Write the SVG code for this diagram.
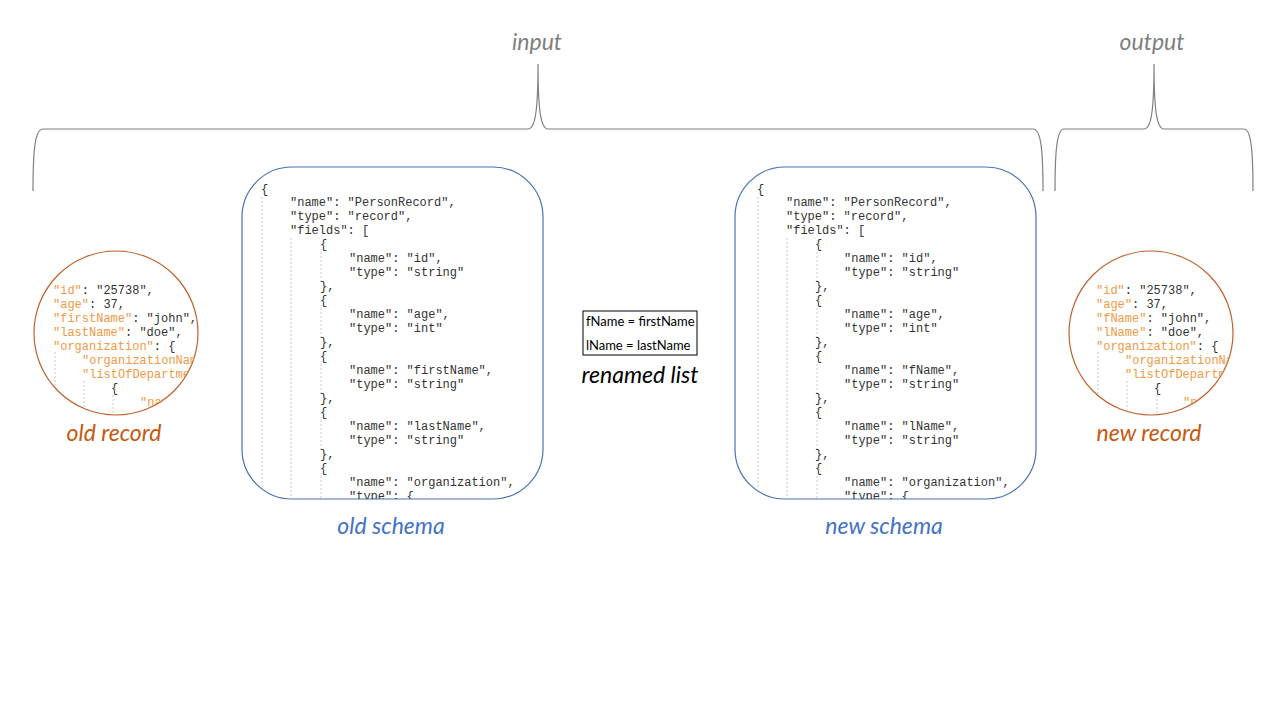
<svg xmlns="http://www.w3.org/2000/svg" width="1280" height="720" viewBox="0 0 1280 720">
<style>
.brace{fill:none;stroke:#808080;stroke-width:1.2}
.lbl{font-family:Lato,"Liberation Sans",sans-serif;font-style:italic;font-size:23px;text-anchor:middle}
.code{font-family:"Liberation Mono","DejaVu Sans Mono",monospace;font-size:12px;fill:#333}
.key{fill:#ef9a43}
.guide{stroke:#c8c8c8;stroke-width:1;stroke-dasharray:2,2;fill:none}
.schema{fill:#fff;stroke:#4a72b4;stroke-width:1.2}
.rec{fill:#fff;stroke:#c0612a;stroke-width:1.2}
.ren{font-family:Lato,"Liberation Sans",sans-serif;font-size:13px;fill:#000}
</style>
<defs>
<clipPath id="cOldS"><rect x="242" y="167" width="301" height="332" rx="50"/></clipPath>
<clipPath id="cNewS"><rect x="735" y="167" width="301" height="332" rx="50"/></clipPath>
<clipPath id="cOldR"><circle cx="116" cy="333" r="82"/></clipPath>
<clipPath id="cNewR"><circle cx="1151" cy="333" r="82"/></clipPath>
</defs>
<rect width="1280" height="720" fill="#fff"/>

<g id="connectors">
<path class="brace" d="M33,191 C33,150 35,129 43,129 L528,129 C535,129 538,112 538,64 C538,112 541,129 548,129 L1033,129 C1041,129 1043,150 1043,191"/>
<path class="brace" d="M1055,191 C1055,150 1057,129 1064,129 L1144,129 C1151,129 1154,112 1154,64 C1154,112 1157,129 1164,129 L1244,129 C1251,129 1253,150 1253,191"/>
</g>

<g id="input-label"><text class="lbl" x="537" y="50" fill="#7f7f7f">input</text></g>
<g id="output-label"><text class="lbl" x="1152" y="50" fill="#7f7f7f">output</text></g>

<g id="old-record">
<circle class="rec" cx="116" cy="333" r="82"/>
<g clip-path="url(#cOldR)">
<line class="guide" x1="55" y1="352" x2="55" y2="420"/>
<line class="guide" x1="84" y1="381" x2="84" y2="420"/>
<line class="guide" x1="113" y1="395" x2="113" y2="420"/>
<text class="code" x="53" y="294"><tspan class="key">"id"</tspan>: "25738",</text>
<text class="code" x="53" y="308"><tspan class="key">"age"</tspan>: 37,</text>
<text class="code" x="53" y="322"><tspan class="key">"firstName"</tspan>: "john",</text>
<text class="code" x="53" y="336"><tspan class="key">"lastName"</tspan>: "doe",</text>
<text class="code" x="53" y="350"><tspan class="key">"organization"</tspan>: {</text>
<text class="code" x="82" y="364"><tspan class="key">"organizationName"</tspan></text>
<text class="code" x="82" y="378"><tspan class="key">"listOfDepartments"</tspan></text>
<text class="code" x="111" y="392">{</text>
<text class="code" x="140" y="406"><tspan class="key">"name"</tspan></text>
</g>
<text class="lbl" x="114" y="441" fill="#c55a11">old record</text>
</g>

<g id="old-schema">
<rect class="schema" x="242" y="167" width="301" height="332" rx="50"/>
<g clip-path="url(#cOldS)">
<line class="guide" x1="262" y1="197" x2="262" y2="500"/>
<line class="guide" x1="291" y1="238" x2="291" y2="500"/>
<line class="guide" x1="321" y1="252" x2="321" y2="284"/>
<line class="guide" x1="321" y1="308" x2="321" y2="340"/>
<line class="guide" x1="321" y1="364" x2="321" y2="396"/>
<line class="guide" x1="321" y1="420" x2="321" y2="452"/>
<line class="guide" x1="321" y1="476" x2="321" y2="500"/>
<text class="code">
<tspan x="261" y="193">{</tspan>
<tspan x="290" y="206">"name": "PersonRecord",</tspan>
<tspan x="290" y="220">"type": "record",</tspan>
<tspan x="290" y="234">"fields": [</tspan>
<tspan x="320" y="248">{</tspan>
<tspan x="349" y="262">"name": "id",</tspan>
<tspan x="349" y="276">"type": "string"</tspan>
<tspan x="320" y="290">},</tspan>
<tspan x="320" y="304">{</tspan>
<tspan x="349" y="318">"name": "age",</tspan>
<tspan x="349" y="332">"type": "int"</tspan>
<tspan x="320" y="346">},</tspan>
<tspan x="320" y="360">{</tspan>
<tspan x="349" y="374">"name": "firstName",</tspan>
<tspan x="349" y="388">"type": "string"</tspan>
<tspan x="320" y="402">},</tspan>
<tspan x="320" y="416">{</tspan>
<tspan x="349" y="430">"name": "lastName",</tspan>
<tspan x="349" y="444">"type": "string"</tspan>
<tspan x="320" y="458">},</tspan>
<tspan x="320" y="472">{</tspan>
<tspan x="349" y="486">"name": "organization",</tspan>
<tspan x="349" y="500">"type": {</tspan>
</text>
</g>
<text class="lbl" x="391" y="534" fill="#4472c4">old schema</text>
</g>

<g id="renamed-list">
<rect x="583" y="311" width="114" height="44" fill="#fff" stroke="#000" stroke-width="1"/>
<text class="ren" x="586" y="326">fName = firstName</text>
<text class="ren" x="586" y="350">lName = lastName</text>
<text class="lbl" x="640" y="383" fill="#000">renamed list</text>
</g>

<g id="new-schema">
<rect class="schema" x="735" y="167" width="301" height="332" rx="50"/>
<g clip-path="url(#cNewS)">
<line class="guide" x1="758" y1="197" x2="758" y2="500"/>
<line class="guide" x1="787" y1="238" x2="787" y2="500"/>
<line class="guide" x1="817" y1="252" x2="817" y2="284"/>
<line class="guide" x1="817" y1="308" x2="817" y2="340"/>
<line class="guide" x1="817" y1="364" x2="817" y2="396"/>
<line class="guide" x1="817" y1="420" x2="817" y2="452"/>
<line class="guide" x1="817" y1="476" x2="817" y2="500"/>
<text class="code">
<tspan x="757" y="193">{</tspan>
<tspan x="786" y="206">"name": "PersonRecord",</tspan>
<tspan x="786" y="220">"type": "record",</tspan>
<tspan x="786" y="234">"fields": [</tspan>
<tspan x="815" y="248">{</tspan>
<tspan x="844" y="262">"name": "id",</tspan>
<tspan x="844" y="276">"type": "string"</tspan>
<tspan x="815" y="290">},</tspan>
<tspan x="815" y="304">{</tspan>
<tspan x="844" y="318">"name": "age",</tspan>
<tspan x="844" y="332">"type": "int"</tspan>
<tspan x="815" y="346">},</tspan>
<tspan x="815" y="360">{</tspan>
<tspan x="844" y="374">"name": "fName",</tspan>
<tspan x="844" y="388">"type": "string"</tspan>
<tspan x="815" y="402">},</tspan>
<tspan x="815" y="416">{</tspan>
<tspan x="844" y="430">"name": "lName",</tspan>
<tspan x="844" y="444">"type": "string"</tspan>
<tspan x="815" y="458">},</tspan>
<tspan x="815" y="472">{</tspan>
<tspan x="844" y="486">"name": "organization",</tspan>
<tspan x="844" y="500">"type": {</tspan>
</text>
</g>
<text class="lbl" x="884" y="534" fill="#4472c4">new schema</text>
</g>

<g id="new-record">
<circle class="rec" cx="1151" cy="333" r="82"/>
<g clip-path="url(#cNewR)">
<line class="guide" x1="1098" y1="352" x2="1098" y2="420"/>
<line class="guide" x1="1127" y1="381" x2="1127" y2="420"/>
<line class="guide" x1="1157" y1="395" x2="1157" y2="420"/>
<text class="code" x="1096" y="294"><tspan class="key">"id"</tspan>: "25738",</text>
<text class="code" x="1096" y="308"><tspan class="key">"age"</tspan>: 37,</text>
<text class="code" x="1096" y="322"><tspan class="key">"fName"</tspan>: "john",</text>
<text class="code" x="1096" y="336"><tspan class="key">"lName"</tspan>: "doe",</text>
<text class="code" x="1096" y="350"><tspan class="key">"organization"</tspan>: {</text>
<text class="code" x="1125" y="364"><tspan class="key">"organizationName"</tspan></text>
<text class="code" x="1125" y="378"><tspan class="key">"listOfDepartments"</tspan></text>
<text class="code" x="1154" y="392">{</text>
<text class="code" x="1183" y="406"><tspan class="key">"name"</tspan></text>
</g>
<text class="lbl" x="1149" y="441" fill="#c55a11">new record</text>
</g>
</svg>
